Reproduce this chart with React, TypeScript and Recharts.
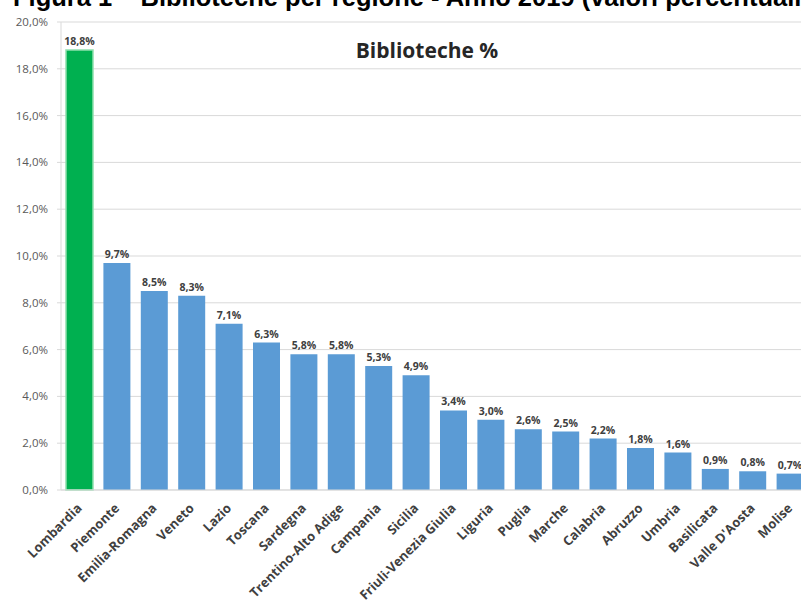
import React from "react";
import { BarChart, Bar, XAxis, YAxis, CartesianGrid, LabelList, Cell } from "recharts";

const regions = [
  "Lombardia", "Piemonte", "Emilia-Romagna", "Veneto", "Lazio", "Toscana", "Sardegna",
  "Trentino-Alto Adige", "Campania", "Sicilia", "Friuli-Venezia Giulia", "Liguria", "Puglia",
  "Marche", "Calabria", "Abruzzo", "Umbria", "Basilicata", "Valle D'Aosta", "Molise",
];
const values = [18.8, 9.7, 8.5, 8.3, 7.1, 6.3, 5.8, 5.8, 5.3, 4.9, 3.4, 3.0, 2.6, 2.5, 2.2, 1.8, 1.6, 0.9, 0.8, 0.7];
const yTicks = [0, 2, 4, 6, 8, 10, 12, 14, 16, 18, 20];
const highlight = "Lombardia";

const data = regions.map((r, i) => ({ region: r, value: values[i] }));

const fmt = (v: number) => v.toFixed(1).replace(".", ",") + "%";

const XTick = (props: any) => {
  const { x, y, payload } = props;
  const ax = x + 3;
  const ay = y + 11;
  return (
    <text
      x={ax}
      y={ay}
      transform={`rotate(-45, ${ax}, ${ay})`}
      textAnchor="end"
      fontFamily="'Open Sans', sans-serif"
      fontWeight={700}
      fontSize={13}
      fill="#404040"
    >
      {payload.value}
    </text>
  );
};

export default function App() {
  return (
    <div style={{ position: "absolute", left: 0, top: 0, width: 801, height: 602, overflow: "hidden", background: "#fff" }}>
      <BarChart
        width={830}
        height={602}
        data={data}
        margin={{ top: 22, right: 21, bottom: 12, left: 0 }}
        barSize={27}
      >
        <CartesianGrid vertical={false} stroke="#d9d9d9" />
        <XAxis
          dataKey="region"
          interval={0}
          height={100}
          tick={<XTick />}
          tickLine={false}
          axisLine={{ stroke: "#d9d9d9" }}
        />
        <YAxis
          width={61}
          domain={[0, 20]}
          ticks={yTicks}
          tickFormatter={fmt}
          tickSize={4}
          tickMargin={9}
          axisLine={{ stroke: "#d9d9d9" }}
          tickLine={{ stroke: "#d9d9d9" }}
          tick={{ fontFamily: "'Open Sans', sans-serif", fontSize: 11.5, fill: "#595959" }}
        />
        <Bar dataKey="value" isAnimationActive={false}>
          {data.map((d) => (
            <Cell
              key={d.region}
              fill={d.region === highlight ? "#00B050" : "#5B9BD5"}
              stroke={d.region === highlight ? "#8fe0ad" : "none"}
              strokeWidth={d.region === highlight ? 1.5 : 0}
            />
          ))}
          <LabelList
            dataKey="value"
            position="top"
            offset={5}
            formatter={(v: any) => fmt(Number(v))}
            style={{ fontFamily: "'Open Sans', sans-serif", fontWeight: 700, fontSize: 10.5, fill: "#404040" }}
          />
        </Bar>
      </BarChart>
      <svg width={801} height={602} style={{ position: "absolute", left: 0, top: 0, pointerEvents: "none" }}>
        <text x={13} y={6} fontFamily="'Liberation Sans', Arial, sans-serif" fontWeight={700} fontSize={25.5} fill="#000">
          Figura 1 – Biblioteche per regione - Anno 2019 (valori percentuali)
        </text>
        <text x={427} y={58} textAnchor="middle" fontFamily="'Open Sans', sans-serif" fontWeight={700} fontSize={21} fill="#262626">
          Biblioteche %
        </text>
      </svg>
    </div>
  );
}
